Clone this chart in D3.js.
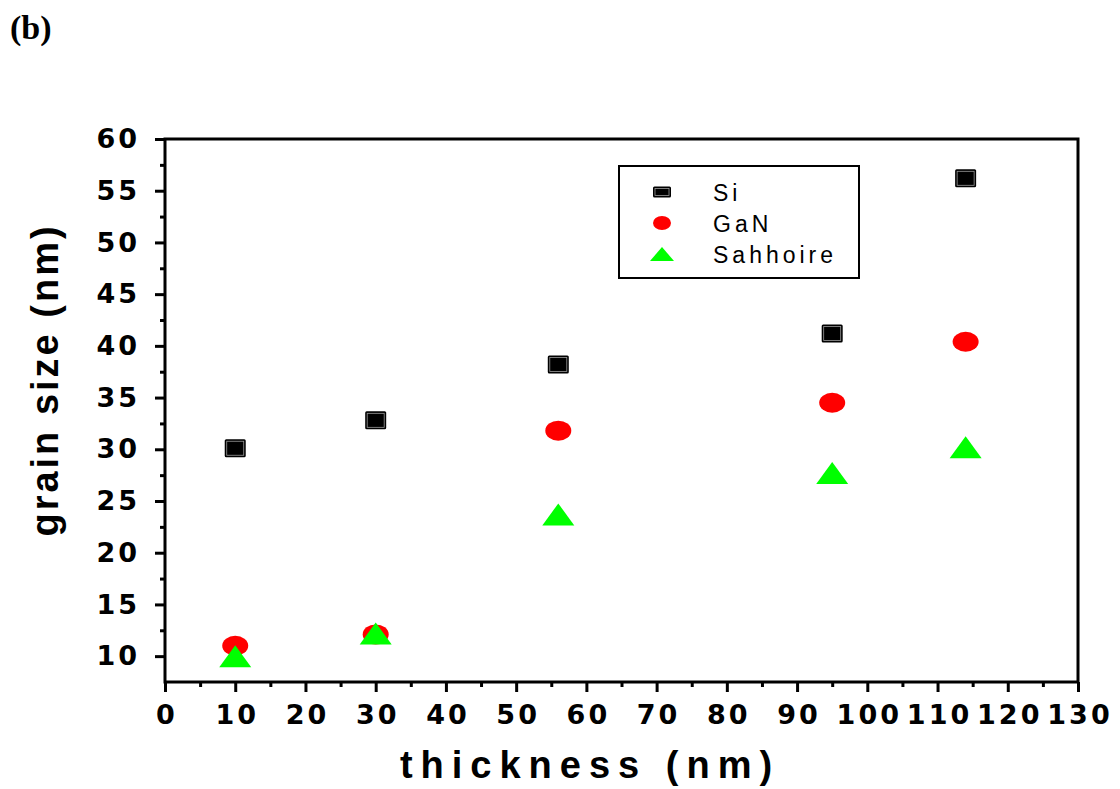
<!DOCTYPE html>
<html>
<head>
<meta charset="utf-8">
<script src="https://cdn.jsdelivr.net/npm/d3@7"></script>
<style>
  body { margin: 0; background: #fff; }
  svg { display: block; }
  text { font-family: "Liberation Sans", Arial, sans-serif; }
  .tick text { font-family: "DejaVu Sans", sans-serif; }
</style>
</head>
<body>
<svg id="chart" width="1120" height="789"></svg>
<script>
// values
const thickness = [10, 30, 56, 95, 114];
const si = [30.1, 32.8, 38.2, 41.2, 56.2];
const gan = [11.0, 12.1, 31.8, 34.5, 40.4];
const sapphire = [10.0, 12.2, 23.7, 27.7, 30.2];
const seriesNames = ["Si", "GaN", "Sahhoire"];
const xTicks = d3.range(0, 131, 10);
const yTicks = d3.range(10, 61, 5);

const svg = d3.select("#chart");
const mLeft = 165, mRight = 1078, mTop = 139, mBottom = 682;

const x = d3.scaleLinear().domain([0, 130]).range([mLeft, mRight]);
const y = d3.scaleLinear().domain([7.5, 60]).range([mBottom, mTop]);

// panel label
svg.append("text")
    .attr("x", 10).attr("y", 39)
    .style("font-family", "'Liberation Serif', 'Times New Roman', serif")
    .style("font-weight", "bold")
    .style("font-size", "34px")
    .text("(b)");

// minor ticks
svg.append("g")
    .attr("transform", `translate(0,${mBottom})`)
    .call(d3.axisBottom(x).tickValues(d3.range(5, 130, 10)).tickSize(5).tickFormat("").tickSizeOuter(0))
    .call(g => g.select(".domain").remove());
svg.append("g")
    .attr("transform", `translate(${mLeft},0)`)
    .call(d3.axisLeft(y).tickValues(d3.range(12.5, 60, 5)).tickSize(5).tickFormat("").tickSizeOuter(0))
    .call(g => g.select(".domain").remove());

// major ticks + labels
const xAxis = svg.append("g")
    .attr("transform", `translate(0,${mBottom})`)
    .call(d3.axisBottom(x).tickValues(xTicks).tickSize(10).tickPadding(13).tickSizeOuter(0));
xAxis.selectAll("text")
    .attr("dx", "1.5px")
    .style("font-size", "27px")
    .style("font-weight", "bold")
    .style("letter-spacing", "3px")
    .attr("fill", "#000");

const yAxis = svg.append("g")
    .attr("transform", `translate(${mLeft},0)`)
    .call(d3.axisLeft(y).tickValues(yTicks).tickSize(10).tickPadding(15).tickSizeOuter(0));
yAxis.selectAll("text")
    .style("font-size", "27px")
    .style("font-weight", "bold")
    .style("letter-spacing", "3px")
    .attr("fill", "#000");

svg.selectAll(".tick line").attr("stroke", "#000").attr("stroke-width", 3);
svg.selectAll(".domain").remove();

// frame
svg.append("rect")
    .attr("x", mLeft).attr("y", mTop)
    .attr("width", mRight - mLeft).attr("height", mBottom - mTop)
    .attr("fill", "none")
    .attr("stroke", "#000")
    .attr("stroke-width", 3);

// axis titles
svg.append("text")
    .attr("x", 590).attr("y", 778)
    .attr("text-anchor", "middle")
    .style("font-size", "38px")
    .style("font-weight", "bold")
    .style("letter-spacing", "8px")
    .text("thickness (nm)");

svg.append("text")
    .attr("transform", `translate(58,380) rotate(-90)`)
    .attr("text-anchor", "middle")
    .style("font-size", "38px")
    .style("font-weight", "bold")
    .style("letter-spacing", "3px")
    .text("grain size (nm)");

// markers
const squareW = 21, squareH = 18;
function drawSquare(g, cx, cy, w, h) {
    g.append("rect")
        .attr("x", cx - w / 2).attr("y", cy - h / 2)
        .attr("width", w).attr("height", h)
        .attr("rx", 1.5)
        .attr("fill", "#000");
    g.append("rect")
        .attr("x", cx - w / 2 + 2).attr("y", cy - h / 2 + 2)
        .attr("width", w - 4).attr("height", h - 4)
        .attr("fill", "none")
        .attr("stroke", "#9a9a9a")
        .attr("stroke-width", 0.8);
}
const tri = (cx, cy, w, h) => `M${cx},${cy - h / 2}L${cx + w / 2},${cy + h / 2}L${cx - w / 2},${cy + h / 2}Z`;

const pts = svg.append("g");
thickness.forEach((t, i) => drawSquare(pts, x(t), y(si[i]), squareW, squareH));
pts.selectAll(".gan").data(thickness).enter()
    .append("ellipse")
    .attr("cx", d => x(d))
    .attr("cy", (d, i) => y(gan[i]))
    .attr("rx", 13).attr("ry", 10)
    .attr("fill", "#ff0000");
pts.selectAll(".sap").data(thickness).enter()
    .append("path")
    .attr("d", (d, i) => tri(x(d), y(sapphire[i]), 32, 22))
    .attr("fill", "#00ff00");

// legend
const lg = svg.append("g");
lg.append("rect")
    .attr("x", 619).attr("y", 166)
    .attr("width", 240).attr("height", 112)
    .attr("fill", "#fff")
    .attr("stroke", "#000")
    .attr("stroke-width", 2);
const rowY = [192, 223, 254];
drawSquare(lg, 662, rowY[0], 18, 11);
lg.append("ellipse").attr("cx", 662).attr("cy", rowY[1]).attr("rx", 9).attr("ry", 7).attr("fill", "#ff0000");
lg.append("path").attr("d", tri(662, rowY[2], 24, 14)).attr("fill", "#00ff00");
lg.selectAll(".lt").data(seriesNames).enter()
    .append("text")
    .attr("x", 713)
    .attr("y", (d, i) => rowY[i] + 9)
    .style("font-size", "23px")
    .style("letter-spacing", "4px")
    .text(d => d);
</script>
</body>
</html>
